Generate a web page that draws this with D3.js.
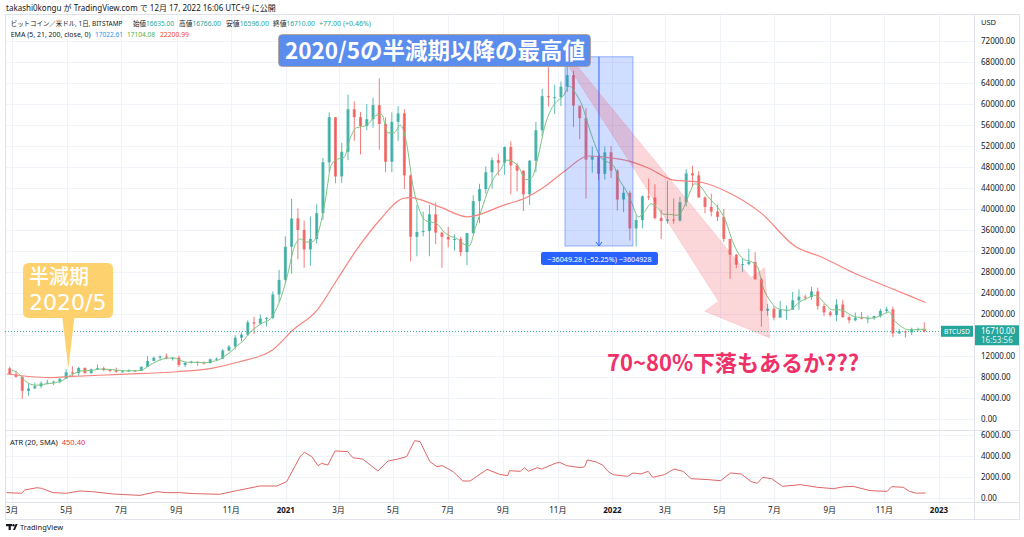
<!DOCTYPE html>
<html><head><meta charset="utf-8">
<script src="https://cdn.jsdelivr.net/npm/d3@7"></script>
<style>
html,body{margin:0;padding:0;background:#fff;}
svg{display:block;font-family:"Noto Sans","Noto Sans CJK JP",sans-serif;}
</style></head><body>
<svg id="c" width="1024" height="537"></svg>
<script>
// ---------------- DATA ----------------
const firstWeek = "2020-02-24";   // Monday of first weekly bar
const firstOpen = 9660;
const closes = [8530,8030,5370,5830,6250,6780,6910,7120,7680,8900,
8750,9720,8730,9450,9680,9340,9300,9000,9070,9230,
9160,9940,11060,11680,11900,11670,11700,10280,10680,10920,
10770,10670,11380,11500,13030,13790,15480,16070,18410,18180,
19150,19270,23730,26500,32800,38200,36000,32300,34300,39200,
48900,57500,46200,50900,59000,57500,55800,57100,59800,56200,
49000,56600,58200,46400,34700,35600,35800,39000,35500,34700,
34200,34300,31800,35400,41500,43800,47000,49300,48800,51800,
48300,47300,42800,49200,55000,61500,61300,61300,63300,65500,
59700,57300,49400,50100,46700,50800,47300,41800,43100,36300,
37900,42400,42200,38300,37700,38000,37800,41300,46800,46400,
42200,40400,39500,38500,34300,31300,29400,29500,29900,26600,
20600,21000,19300,20800,20800,22600,23300,23200,24300,21500,
20300,19800,21800,19400,18800,19300,19100,19200,19600,20600,
20900,16300,16700,16500,17100,17100,16710];
const highs = [9960,9190,8170,6900,6970,7200,7460,7300,7720,9460,
10050,9950,9840,9620,10400,9990,9560,9780,9300,9460,
9330,10000,12000,11900,12100,12480,11800,12090,10950,11100,
10980,10960,11490,11720,13350,14100,15960,16480,18800,19480,
19900,19420,24300,28400,34800,41950,40100,37800,38600,40900,
49700,58400,57500,52600,61800,60500,58500,60000,61200,64900,
57500,58400,59600,59000,46600,40800,39500,40800,41300,35700,
36600,35100,34700,35500,42600,44800,48100,49800,50500,51900,
52900,48800,47400,49300,56600,62900,67000,63700,64300,69000,
66300,59300,59200,51900,50300,51900,52000,47600,44400,43500,
38900,42600,45800,44700,39800,45400,42000,42300,47600,48200,
47200,42400,42900,40800,40000,34300,31400,30600,32400,31800,
26900,21900,21500,22500,21600,24200,24700,23700,25200,25000,
22000,20600,22800,22700,19700,20300,20400,19700,19700,21000,
21400,21400,17200,16800,17400,17400,18400];
const lows = [8500,7900,3850,4440,5700,5860,6770,6470,6790,7650,
8100,8200,8650,8640,9380,9080,8910,8830,8900,9050,
9050,9120,9900,11000,11150,11450,11130,9900,9880,10600,
10130,10370,10530,11200,11400,12900,13200,14800,15800,16200,
18000,17600,19000,22300,26000,27700,30400,28800,29200,33400,
37900,47000,44900,45000,49300,53000,50400,55000,55500,51300,
47000,47000,53000,43800,30000,31000,34800,31000,33300,28800,
32700,32100,31000,29300,35200,37300,42800,43900,46400,46500,
42800,43400,39600,40800,47000,53900,59500,58100,59600,62300,
55600,53300,42000,46900,45500,45600,45900,39700,39400,34000,
32900,36300,41700,38000,34300,37200,37200,37600,40500,44200,
42100,39200,38600,37700,33700,26700,28700,28000,29300,26600,
17600,19700,18800,19300,18900,20800,20800,22600,22700,20800,
19600,19500,18600,19300,18200,18600,19000,18200,18900,19300,
20100,15600,16200,15500,16000,16700,16500];
const ema21 = [9300,8680,7370,6600,6430,6600,6760,6940,7300,8080,
8680,9150,9220,9300,9500,9480,9400,9280,9180,9200,
9190,9450,10250,10900,11400,11600,11600,11100,10800,10800,
10750,10720,10950,11250,12000,12900,14000,15000,16500,17500,
18300,18800,20500,23300,27500,32500,34300,33700,33800,36000,
41500,48500,49500,49800,53500,55500,55700,56300,57800,58000,
54500,54500,56000,52500,44500,40000,37800,37500,37000,35600,
34800,34400,33400,33000,36500,40000,43500,46000,47500,49300,
49000,47800,45600,46000,50000,55500,58800,60500,61500,63400,
62000,59800,56000,52500,49800,49000,48300,45500,43600,41000,
38500,39500,41000,40300,39000,39000,38800,39700,42500,44800,
44200,42500,41200,39800,37500,34000,31500,30300,30000,29000,
24800,22600,21200,20800,20700,21500,22500,23000,23600,23000,
21700,20800,20800,20500,19700,19400,19300,19200,19350,19900,
20400,18600,17600,17000,17000,17100,17104];
const ema200Dates = ["2020-02-24","2020-04-12","2020-05-01","2020-06-30","2020-09-01","2020-10-10","2020-11-10","2020-12-17","2021-01-09","2021-02-05","2021-02-27","2021-03-21","2021-04-16","2021-05-12","2021-05-20","2021-06-22","2021-07-23","2021-09-01","2021-09-28","2021-10-15","2021-11-10","2021-12-05","2021-12-22","2022-01-15","2022-02-10","2022-03-10","2022-04-10","2022-05-10","2022-06-15","2022-07-25","2022-08-22","2022-09-28","2022-11-07","2022-12-17"];
const ema200Values = [8570,7900,8060,8500,9000,9650,10900,13140,16950,20760,26480,32200,37900,42000,42150,40400,38500,40700,42300,44000,47400,50100,49900,49300,47800,45500,45100,43200,39400,32800,30900,27800,25000,22200];
const atrDates = ["2020-02-24","2020-03-12","2020-03-15","2020-03-29","2020-04-03","2020-04-16","2020-05-01","2020-05-16","2020-05-30","2020-06-22","2020-07-22","2020-08-10","2020-08-21","2020-09-05","2020-09-19","2020-10-19","2020-11-07","2020-12-03","2020-12-22",
"2021-01-02","2021-01-09","2021-01-17","2021-01-22","2021-01-30","2021-02-06","2021-02-10","2021-02-17","2021-02-25","2021-03-11","2021-03-17","2021-03-28","2021-04-14","2021-04-25","2021-05-06","2021-05-16","2021-05-25","2021-05-31","2021-06-11","2021-06-19","2021-06-25","2021-07-07","2021-07-18","2021-07-26","2021-08-02","2021-08-14","2021-08-28","2021-09-06","2021-09-08","2021-09-20","2021-09-25","2021-09-29","2021-10-09","2021-10-14","2021-10-29","2021-11-03","2021-11-11","2021-11-26","2021-12-01","2021-12-04","2021-12-13","2021-12-21","2021-12-27",
"2022-01-02","2022-01-18","2022-01-24","2022-02-02","2022-02-10","2022-02-15","2022-02-28","2022-03-11","2022-03-21","2022-03-30","2022-04-18","2022-05-02","2022-05-13","2022-05-25","2022-06-05","2022-06-12","2022-06-18","2022-06-28","2022-07-10","2022-07-30","2022-08-18","2022-09-05","2022-09-16","2022-09-27","2022-10-16","2022-11-04","2022-11-09","2022-11-22","2022-11-29","2022-12-07","2022-12-14","2022-12-17"];
const atrValues = [510,450,760,980,920,510,450,670,600,380,250,600,510,510,420,350,700,1140,1140,
1560,2670,3940,4350,3940,3080,3300,3140,4480,4420,3840,3700,2570,3520,3700,3940,5460,5370,3460,2980,3080,2510,1620,1620,2030,2730,2250,2130,2600,2540,2890,2540,2890,2760,3300,3400,3080,2890,2980,3620,3460,3140,2540,
2220,2060,2380,2290,2540,1970,2220,2760,2540,1840,1750,1650,2380,2290,1560,1400,1970,1840,1110,1270,1020,890,1060,1110,700,630,1080,1020,630,450,480,450];
const priceTicks = [0,4000,8000,12000,16000,20000,24000,28000,32000,36000,40000,44000,48000,52000,56000,60000,64000,68000,72000];
const atrTicks = [0,2000,4000,6000];
const timeTickDates = ["2020-03-01","2020-05-01","2020-07-01","2020-09-01","2020-11-01","2021-01-01","2021-03-01","2021-05-01","2021-07-01","2021-09-01","2021-11-01","2022-01-01","2022-03-01","2022-05-01","2022-07-01","2022-09-01","2022-11-01","2023-01-01"];
const timeTickLabels = ["3月","5月","7月","9月","11月","2021","3月","5月","7月","9月","11月","2022","3月","5月","7月","9月","11月","2023"];
const lastPrice = 16710;
// annotations (data space)
const rangeStart = "2021-11-09", rangeEnd = "2022-01-24", rangeHigh = 69000, rangeLow = 32950.72;
const arrowFrom = ["2021-11-11", 68760], arrowTo = ["2022-06-26", 15430];
const halvingPoint = ["2020-05-03", 9700];

// ---------------- CHART ----------------
const parse = d3.timeParse("%Y-%m-%d");
const svg = d3.select("#c");
const plotL = 5, plotR = 974, mainT = 14, mainB = 430, atrB = 502, axB = 519, outR = 1019;
const x = d3.scaleTime().domain([new Date(2020,2,1), new Date(2023,0,1)]).range([12, 939]);
const y = d3.scaleLinear().domain([0, 72000]).range([419, 41]);
const ya = d3.scaleLinear().domain([0, 6000]).range([498, 435]);
const gridC = "#f0f3fa", txtC = "#131722";

const defs = svg.append("defs");
defs.append("clipPath").attr("id","cm").append("rect").attr("x",plotL).attr("y",mainT).attr("width",plotR-plotL).attr("height",mainB-mainT);
defs.append("clipPath").attr("id","ca").append("rect").attr("x",plotL).attr("y",mainB).attr("width",outR-plotL).attr("height",atrB-mainB);

// grid
const tds = timeTickDates.map(parse);
svg.append("g").selectAll("line").data(tds).join("line")
  .attr("x1",d=>Math.round(x(d))+0.5).attr("x2",d=>Math.round(x(d))+0.5)
  .attr("y1",mainT).attr("y2",atrB).attr("stroke",gridC);
svg.append("g").selectAll("line").data(priceTicks).join("line")
  .attr("x1",plotL).attr("x2",plotR).attr("y1",d=>Math.round(y(d))+0.5).attr("y2",d=>Math.round(y(d))+0.5).attr("stroke",gridC);
svg.append("g").selectAll("line").data(atrTicks).join("line")
  .attr("x1",plotL).attr("x2",plotR).attr("y1",d=>Math.round(ya(d))+0.5).attr("y2",d=>Math.round(ya(d))+0.5).attr("stroke",gridC);

// frame
svg.append("rect").attr("x",plotL+0.5).attr("y",mainT+0.5).attr("width",outR-plotL).attr("height",axB-mainT).attr("fill","none").attr("stroke","#e0e3eb");
svg.append("line").attr("x1",plotL).attr("x2",outR).attr("y1",mainB+0.5).attr("y2",mainB+0.5).attr("stroke","#e0e3eb");
svg.append("line").attr("x1",plotL).attr("x2",outR).attr("y1",atrB+0.5).attr("y2",atrB+0.5).attr("stroke","#e0e3eb");
svg.append("line").attr("x1",plotR+0.5).attr("x2",plotR+0.5).attr("y1",mainT).attr("y2",axB).attr("stroke","#e0e3eb");

// candles
const w0 = parse(firstWeek);
const bars = closes.map((c,i)=>({
  date: new Date(w0.getTime() + (7*i+3.5)*864e5),
  end: new Date(w0.getTime() + (7*i+6)*864e5),
  o: i===0 ? firstOpen : closes[i-1], h: highs[i], l: lows[i], c
}));
const gm = svg.append("g").attr("clip-path","url(#cm)");
const up = "#26a69a", dn = "#ef5350";
gm.append("g").selectAll("line").data(bars).join("line")
  .attr("x1",d=>x(d.date)).attr("x2",d=>x(d.date)).attr("y1",d=>y(d.h)).attr("y2",d=>y(d.l))
  .attr("stroke",d=>d.c>=d.o?up:dn).attr("stroke-width",1).attr("opacity",0.75);
gm.append("g").selectAll("rect").data(bars).join("rect")
  .attr("x",d=>x(d.date)-1.5).attr("width",3)
  .attr("y",d=>y(Math.max(d.o,d.c))).attr("height",d=>Math.max(1,Math.abs(y(d.o)-y(d.c))))
  .attr("fill",d=>d.c>=d.o?up:dn).attr("opacity",0.75);

// EMAs
gm.append("path").datum(ema200Dates.map((d,i)=>[parse(d),ema200Values[i]]))
  .attr("d",d3.line().x(d=>x(d[0])).y(d=>y(d[1])).curve(d3.curveMonotoneX))
  .attr("fill","none").attr("stroke","#f7857f").attr("stroke-width",1.2);
gm.append("path").datum(bars.map((b,i)=>[b.end,ema21[i]]))
  .attr("d",d3.line().x(d=>x(d[0])).y(d=>y(d[1])).curve(d3.curveMonotoneX))
  .attr("fill","none").attr("stroke","#7cc47f").attr("stroke-width",1);

// last price line
svg.append("line").attr("x1",plotL).attr("x2",plotR).attr("y1",Math.round(y(lastPrice))+0.5).attr("y2",Math.round(y(lastPrice))+0.5)
  .attr("stroke","#26a69a").attr("stroke-dasharray","1,2").attr("opacity",0.9);

// range measure box
const rx0 = x(parse(rangeStart)), rx1 = x(parse(rangeEnd)), ry0 = y(rangeHigh), ry1 = y(rangeLow);
gm.append("rect").attr("x",rx0).attr("y",ry0).attr("width",rx1-rx0).attr("height",ry1-ry0)
  .attr("fill","rgba(41,98,255,0.22)").attr("stroke","rgba(41,98,255,0.45)");
const rmx = (rx0+rx1)/2;
gm.append("line").attr("x1",rmx).attr("x2",rmx).attr("y1",ry0).attr("y2",ry1).attr("stroke","#2962ff").attr("stroke-width",1);
gm.append("path").attr("d",`M${rmx-3},${ry1-4}L${rmx},${ry1}L${rmx+3},${ry1-4}`).attr("fill","none").attr("stroke","#2962ff");
svg.append("rect").attr("x",rmx-58).attr("y",ry1+6).attr("width",117).attr("height",13).attr("rx",2).attr("fill","#2962ff");
svg.append("text").attr("x",rmx+0.5).attr("y",ry1+15.5).attr("text-anchor","middle").attr("fill","#fff").attr("font-size",7.2)
  .text("−36049.28 (−52.25%) −3604928");

// pink arrow
{
  const p0=[x(parse(arrowFrom[0])),y(arrowFrom[1])], p1=[x(parse(arrowTo[0])),y(arrowTo[1])];
  const dx=p1[0]-p0[0], dy=p1[1]-p0[1], L=Math.hypot(dx,dy), ux=dx/L, uy=dy/L, px=-uy, py=ux;
  const hl=60, hh=37, s0=3, s1=20;
  const bx=p1[0]-ux*hl, by=p1[1]-uy*hl;
  const pts=[[p0[0]+px*s0,p0[1]+py*s0],[bx+px*s1,by+py*s1],[bx+px*hh,by+py*hh],p1,[bx-px*hh,by-py*hh],[bx-px*s1,by-py*s1],[p0[0]-px*s0,p0[1]-py*s0]];
  gm.append("path").attr("d","M"+pts.map(p=>p.join(",")).join("L")+"Z")
    .attr("fill","rgba(242,54,69,0.2)").attr("stroke","rgba(242,54,69,0.12)");
}

// ATR panel
const ga = svg.append("g").attr("clip-path","url(#ca)");
ga.append("path").datum(atrDates.map((d,i)=>[parse(d),atrValues[i]]))
  .attr("d",d3.line().x(d=>x(d[0])).y(d=>ya(d[1])))
  .attr("fill","none").attr("stroke","#e06666").attr("stroke-width",1);
ga.append("g").selectAll("text").data(atrTicks).join("text")
  .attr("x",981).attr("y",d=>ya(d)+3).attr("font-size",8).attr("fill",txtC).text(d=>d.toFixed(2));
svg.append("text").attr("x",10).attr("y",445).attr("font-size",7.5).attr("fill",txtC)
  .html('ATR (20, SMA) <tspan fill="#e53935" dx="2">450.40</tspan>');

// price axis labels (the one under the last-price tag is hidden, as in the original)
svg.append("g").selectAll("text").data(priceTicks.filter(d=>Math.abs(y(d)-y(lastPrice))>12)).join("text")
  .attr("x",981).attr("y",d=>y(d)+3).attr("font-size",8).attr("fill",txtC).text(d=>d.toFixed(2));
svg.append("text").attr("x",981).attr("y",25).attr("font-size",7.5).attr("fill",txtC).text("USD");

// last price labels
const ly = y(lastPrice);
svg.append("rect").attr("x",941).attr("y",ly-5.5).attr("width",32).attr("height",11).attr("fill","#26a69a");
svg.append("text").attr("x",957).attr("y",ly+2.5).attr("text-anchor","middle").attr("font-size",6.8).attr("fill","#fff").text("BTCUSD");
svg.append("rect").attr("x",975).attr("y",ly-6).attr("width",44).attr("height",20).attr("fill","#26a69a");
svg.append("text").attr("x",981).attr("y",ly+2.5).attr("font-size",8).attr("fill","#fff").text("16710.00");
svg.append("text").attr("x",981).attr("y",ly+11.5).attr("font-size",8).attr("fill","#e0f2f1").text("16:53:56");

// time axis
svg.append("g").selectAll("text").data(tds).join("text")
  .attr("x",d=>x(d)).attr("y",513).attr("text-anchor","middle").attr("font-size",8)
  .attr("font-weight",(d,i)=>/^\d{4}$/.test(timeTickLabels[i])?700:400)
  .attr("fill",txtC).text((d,i)=>timeTickLabels[i]);

// header
svg.append("text").attr("x",6).attr("y",11).attr("font-size",8).attr("fill",txtC)
  .text("takashi0kongu が TradingView.com で 12月 17, 2022 16:06 UTC+9 に公開");
const tc="#26a69a";
const hdr = [
  [10.7,26,112,`ビットコイン／米ドル, 1日, BITSTAMP`],
  [133,26,41,`始値<tspan fill="${tc}">16635.00</tspan>`],
  [179,26,42,`高値<tspan fill="${tc}">16766.00</tspan>`],
  [226,26,43,`安値<tspan fill="${tc}">16596.00</tspan>`],
  [273,26,42,`終値<tspan fill="${tc}">16710.00</tspan>`],
  [319,26,52,`<tspan fill="${tc}">+77.00 (+0.46%)</tspan>`],
  [10.7,37,80,`EMA (5, 21, 200, close, 0)`],
  [95,37,28,`<tspan fill="#2196f3">17022.61</tspan>`],
  [127,37,28,`<tspan fill="#4caf50">17104.08</tspan>`],
  [160,37,29,`<tspan fill="#f44336">22200.99</tspan>`]
];
svg.append("g").selectAll("text").data(hdr).join("text")
  .attr("x",d=>d[0]).attr("y",d=>d[1]).attr("font-size",7.5).attr("fill",txtC).html(d=>d[3])
  .each(function(d){
    const w = this.getComputedTextLength();
    if (w > 0) d3.select(this).attr("font-size", Math.min(8, 7.5*d[2]/w));
  });

// yellow callout
{
  const ax = x(parse(halvingPoint[0])), ay = y(halvingPoint[1]);
  const bx0=23, by0=263, bx1=113, by1=318, r=6;
  const d=`M${bx0+r},${by0}H${bx1-r}Q${bx1},${by0} ${bx1},${by0+r}V${by1-r}Q${bx1},${by1} ${bx1-r},${by1}H${ax+6}L${ax},${ay}L${ax-6},${by1}H${bx0+r}Q${bx0},${by1} ${bx0},${by1-r}V${by0+r}Q${bx0},${by0} ${bx0+r},${by0}Z`;
  svg.append("path").attr("d",d).attr("fill","#fdd26e");
  svg.append("text").attr("x",29).attr("y",283.5).attr("font-size",20).attr("font-weight",500).attr("fill","#fff").attr("font-family","Noto Sans CJK JP").text("半減期");
  svg.append("text").attr("x",29).attr("y",310).attr("font-size",22).attr("font-weight",400).attr("fill","#fff").attr("font-family","DejaVu Sans").text("2020/5");
}

// blue title label
svg.append("rect").attr("x",278.5).attr("y",34.5).attr("width",312).attr("height",32).attr("rx",4)
  .attr("fill","#5b8def").attr("stroke","rgba(190,140,90,0.55)");
svg.append("text").attr("x",285).attr("y",59).attr("font-size",22.5).attr("font-weight",700).attr("fill","#fff")
  .attr("font-family","Noto Sans CJK JP").text("2020/5の半減期以降の最高値");

// pink text
svg.append("text").attr("x",607).attr("y",371).attr("font-size",22).attr("font-weight",700).attr("fill","#f03068")
  .attr("font-family","Noto Sans CJK JP").text("70~80%下落もあるか???");

// TradingView logo
const lg = svg.append("g").attr("fill","#131722");
lg.append("rect").attr("x",6).attr("y",524).attr("width",6).attr("height",2.2);
lg.append("rect").attr("x",8.6).attr("y",524).attr("width",2.2).attr("height",6);
lg.append("circle").attr("cx",13.5).attr("cy",525.2).attr("r",1.2);
lg.append("path").attr("d","M13,530L15.6,524H17.6L15,530Z");
svg.append("text").attr("x",20).attr("y",530).attr("font-size",7.5).attr("fill",txtC).text("TradingView");
</script>
</body></html>
